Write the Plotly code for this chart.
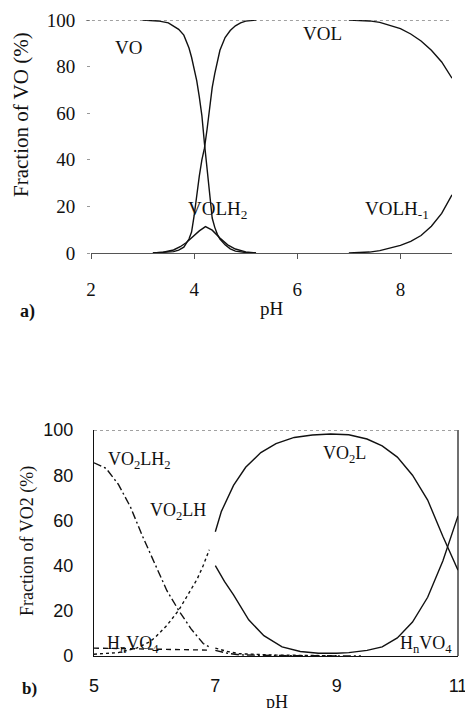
import plotly.graph_objects as go

# ---------------- Panel a data ----------------
ph_vo = [3.0, 3.3, 3.5, 3.6, 3.7, 3.8, 3.9, 3.95, 4.0, 4.05, 4.1, 4.15, 4.2, 4.25, 4.3, 4.35, 4.4, 4.45, 4.5, 4.6, 4.7, 4.8, 5.0, 5.2]
vo = [100, 99.6, 98.8, 97.5, 96, 93.5, 88, 84, 79, 74, 67, 59, 47, 37, 25, 15, 11, 8, 6, 3.5, 1.8, 0.8, 0.2, 0]

ph_vol1 = [3.2, 3.4, 3.6, 3.7, 3.8, 3.9, 3.95, 4.0, 4.05, 4.1, 4.15, 4.2, 4.25, 4.3, 4.35, 4.4, 4.5, 4.6, 4.7, 4.8, 4.9, 5.0, 5.2]
vol1 = [0, 0.2, 0.6, 1.2, 2.5, 6, 9, 16, 25, 33, 40, 45, 53, 63, 71, 77, 87, 92.5, 95.5, 97.5, 98.8, 99.5, 100]

ph_vol2 = [7.0, 7.2, 7.4, 7.6, 7.8, 8.0, 8.2, 8.4, 8.6, 8.8, 9.0]
vol2 = [100, 99.9, 99.6, 99, 97.8, 96.3, 94, 91, 87, 82, 75]

ph_volh2 = [3.2, 3.4, 3.6, 3.73, 3.85, 3.98, 4.1, 4.22, 4.35, 4.5, 4.65, 4.8, 5.0, 5.2]
volh2 = [0, 0.3, 1.3, 2.7, 4.5, 7, 9.5, 11.3, 9.8, 6.4, 3.5, 1.7, 0.5, 0]

ph_volhm1 = [7.0, 7.2, 7.4, 7.6, 7.8, 8.0, 8.2, 8.4, 8.6, 8.8, 9.0]
volhm1 = [0, 0.1, 0.4, 1, 2, 3.3, 5, 7.5, 11.5, 17, 25]

# ---------------- Panel b data ----------------
ph_lh2_1 = [5.0, 5.2, 5.4, 5.6, 5.8, 6.0, 6.2, 6.4, 6.6, 6.8, 6.9]
lh2_1 = [85.5, 83, 76, 66, 53, 41, 29, 20, 12, 5.5, 4]
ph_lh2_2 = [7.0, 7.2, 7.4, 8.0, 9.4]
lh2_2 = [2.5, 1.2, 0.5, 0.2, 0]

ph_lh_1 = [5.0, 5.4, 5.7, 5.9, 6.0, 6.2, 6.4, 6.6, 6.7, 6.8, 6.9]
lh_1 = [0.8, 1.5, 3.5, 6, 8, 13.5, 20.4, 29.5, 34, 40, 47]
ph_lh_2 = [7.0, 7.2, 7.4, 8.0, 9.0]
lh_2 = [3.5, 2, 1, 0.4, 0.1]

ph_l = [7.0, 7.1, 7.3, 7.5, 7.75, 8.0, 8.3, 8.6, 8.9, 9.2, 9.5, 9.75, 10.0, 10.25, 10.5, 10.75, 11.0]
l = [55, 64, 75.5, 83.5, 90, 94, 96.7, 97.8, 98.2, 97.9, 96, 93, 88, 80, 69, 53, 38]

ph_hv_1 = [5.0, 5.5, 6.0, 6.5, 6.9]
hv_1 = [3.5, 3.3, 3.0, 2.8, 2.6]
ph_hv_2 = [7.0, 7.15, 7.3, 7.55, 7.8, 8.1, 8.4, 8.7, 9.0, 9.2, 9.5, 9.75, 10.0, 10.25, 10.5, 10.75, 11.0]
hv_2 = [40, 33, 27, 16, 9, 4, 2, 1.2, 1.2, 1.5, 2.5, 4, 8, 15, 26, 42, 62]

ticks_a_x = [2, 4, 6, 8]
ticks_a_y = [0, 20, 40, 60, 80, 100]
ticks_b_x = [5, 7, 9, 11]
ticks_b_y = [0, 20, 40, 60, 80, 100]

SERIF = "Liberation Serif"
SANS = "Liberation Sans"
BLACK = "#111"

fig = go.Figure()

def add(xs, ys, xa, ya, dash="solid", width=1.4):
    fig.add_trace(go.Scatter(x=xs, y=ys, mode="lines", xaxis=xa, yaxis=ya,
                             line=dict(color=BLACK, width=width, dash=dash),
                             showlegend=False, hoverinfo="skip"))

add(ph_vo, vo, "x", "y")
add(ph_vol1, vol1, "x", "y")
add(ph_vol2, vol2, "x", "y")
add(ph_volh2, volh2, "x", "y")
add(ph_volhm1, volhm1, "x", "y")

add(ph_lh2_1, lh2_1, "x2", "y2", dash="8px,3px,2px,3px")
add(ph_lh2_2, lh2_2, "x2", "y2", dash="8px,3px,2px,3px")
add(ph_lh_1, lh_1, "x2", "y2", dash="3px,3px")
add(ph_lh_2, lh_2, "x2", "y2", dash="3px,3px")
add(ph_l, l, "x2", "y2")
add(ph_hv_1, hv_1, "x2", "y2", dash="5px,4px")
add(ph_hv_2, hv_2, "x2", "y2")

W, H = 465, 708
def px(x): return x / W
def py(y): return 1 - y / H

fig.update_layout(
    template="none",
    width=W, height=H, margin=dict(l=0, r=0, t=0, b=0, pad=0),
    paper_bgcolor="white", plot_bgcolor="white",
    xaxis=dict(domain=[px(91), px(452)], range=[2, 9], anchor="y", automargin=False,
               tickvals=ticks_a_x, ticks="outside", ticklen=5, tickcolor="#555",
               showline=True, linecolor="#555", linewidth=1.2, showgrid=False, zeroline=False,
               tickfont=dict(family=SERIF, size=19, color=BLACK), ticklabelstandoff=14,
               ticklabeloverflow="allow"),
    yaxis=dict(domain=[py(253), py(20)], range=[0, 100], anchor="x", automargin=False,
               tickvals=ticks_a_y, ticks="outside", ticklen=3, tickcolor="#999",
               showline=False, showgrid=False, zeroline=False,
               tickfont=dict(family=SERIF, size=19, color=BLACK), ticklabelstandoff=8,
               ticklabeloverflow="allow"),
    xaxis2=dict(domain=[px(94), px(458)], range=[5, 11], anchor="y2", automargin=False,
                tickvals=ticks_b_x, ticks="",
                showline=True, linecolor=BLACK, linewidth=1.2, showgrid=False, zeroline=False,
                tickfont=dict(family=SANS, size=18, color=BLACK), ticklabelstandoff=13,
                ticklabeloverflow="allow"),
    yaxis2=dict(domain=[py(656), py(430)], range=[0, 100], anchor="x2", automargin=False,
                tickvals=ticks_b_y, ticks="",
                showline=True, linecolor=BLACK, linewidth=1.2, showgrid=False, zeroline=False,
                tickfont=dict(family=SANS, size=18, color=BLACK), ticklabelstandoff=16,
                ticklabeloverflow="allow"),
)

# frame pieces
fig.add_shape(type="line", xref="x domain", yref="y", x0=-0.014, x1=1, y0=100, y1=100,
              line=dict(color="#444", width=1, dash="dot"))
fig.add_shape(type="line", xref="x2 domain", yref="y2", x0=0, x1=1, y0=100, y1=100,
              line=dict(color="#444", width=1.2, dash="dot"))
fig.add_shape(type="line", xref="x2 domain", yref="y2 domain", x0=1, x1=1, y0=0, y1=1,
              line=dict(color=BLACK, width=1.2))

def ann(x, y, text, xr, yr, size=19, family=SERIF, **kw):
    fig.add_annotation(x=x, y=y, xref=xr, yref=yr, text=text, showarrow=False,
                       xanchor=kw.pop("xanchor", "center"), yanchor="middle",
                       font=dict(family=family, size=size, color=BLACK), **kw)

# panel a labels
ann(2.72, 88, "VO", "x", "y")
ann(6.48, 94.4, "VOL", "x", "y")
ann(4.45, 18.5, "VOLH<sub>2</sub>", "x", "y")
ann(7.94, 18.5, "VOLH<sub>-1</sub>", "x", "y")
ann(px(21), py(115), "Fraction of VO (%)", "paper", "paper", size=21, textangle=-90)
ann(px(272), py(309), "pH", "paper", "paper", size=19)
ann(px(27), py(312), "<b>a)</b>", "paper", "paper", size=18)

# panel b labels
ann(5.2, 86.7, "VO<sub>2</sub>LH<sub>2</sub>", "x2", "y2", size=18, xanchor="left")
ann(6.38, 64, "VO<sub>2</sub>LH", "x2", "y2", size=18)
ann(9.13, 89, "VO<sub>2</sub>L", "x2", "y2", size=18)
ann(5.64, 4.9, "H<sub>n</sub>VO<sub>4</sub>", "x2", "y2", size=18)
ann(10.47, 4.9, "H<sub>n</sub>VO<sub>4</sub>", "x2", "y2", size=18)
ann(px(27), py(541), "Fraction of VO2 (%)", "paper", "paper", size=18, textangle=-90)
ann(px(277), py(702), "pH", "paper", "paper", size=18)
ann(px(29), py(688), "<b>b)</b>", "paper", "paper", size=17)

fig.write_html("out.html", config={"displayModeBar": False},
               post_script="document.body.style.margin='0';document.body.style.overflow='hidden';")
